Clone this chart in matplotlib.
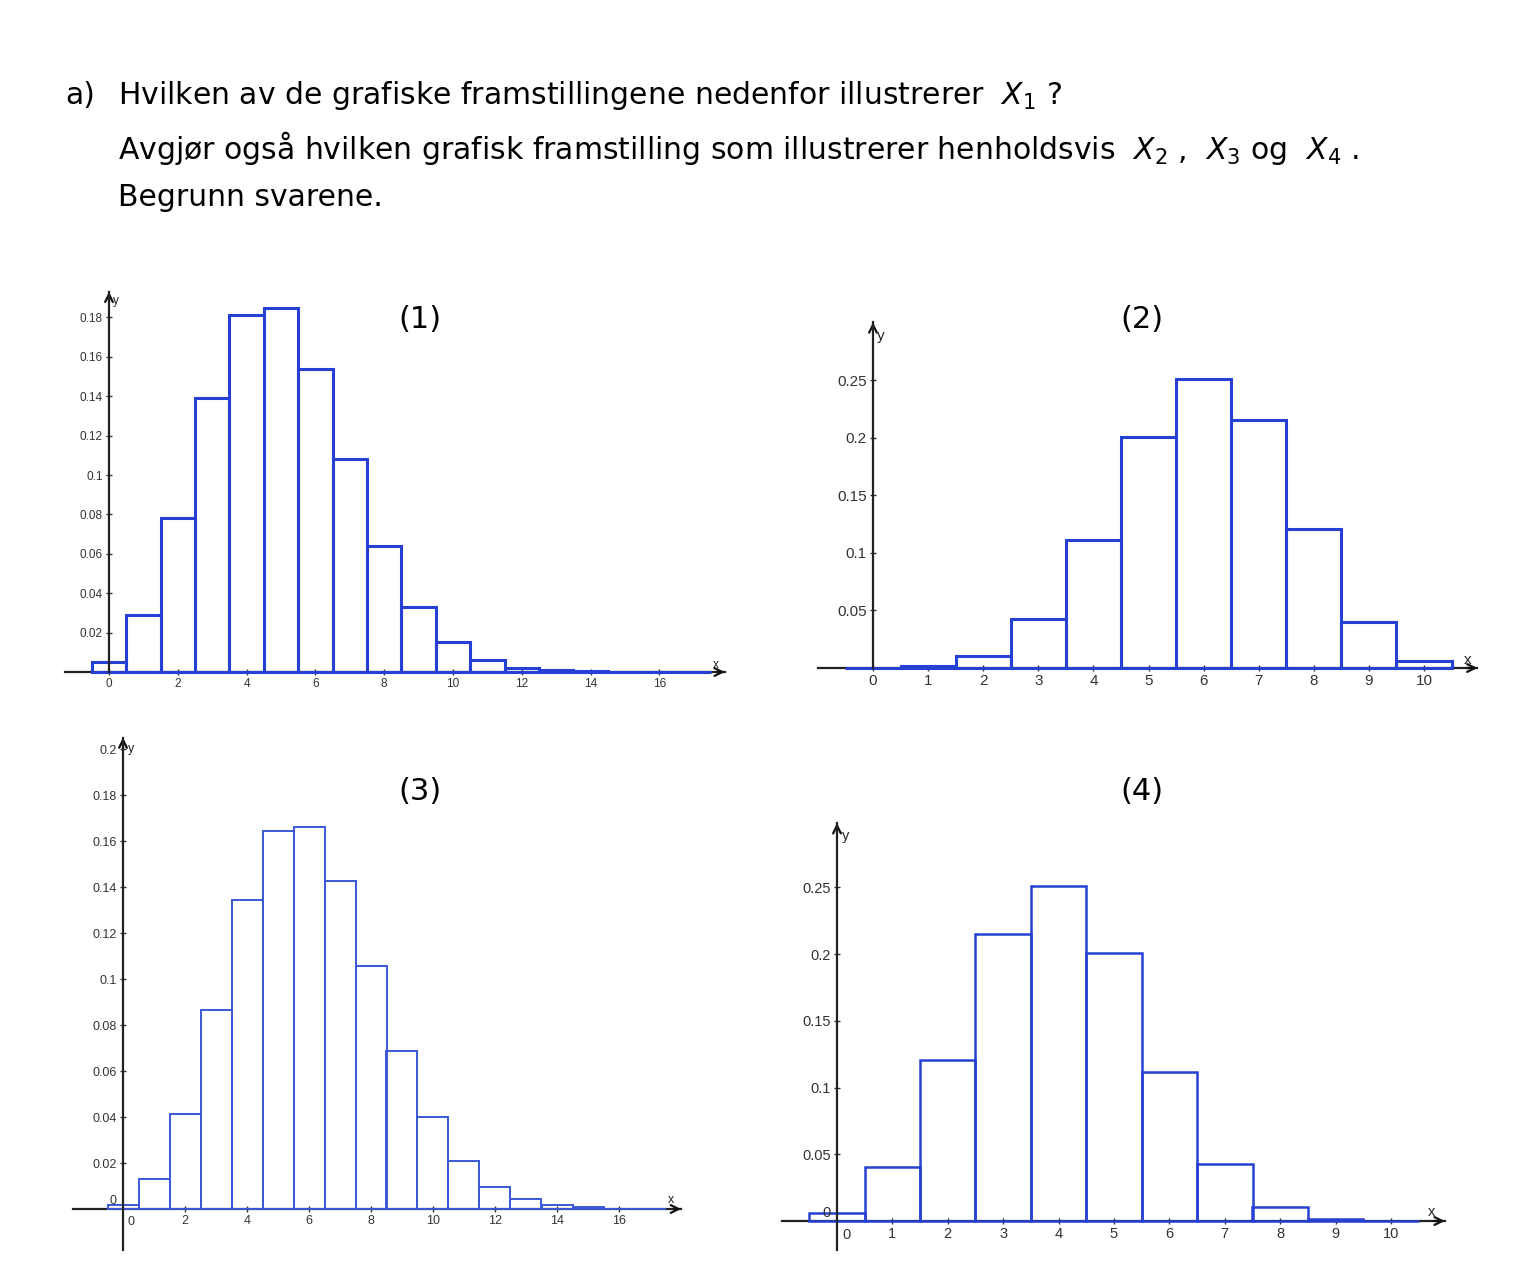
import matplotlib.pyplot as plt

plt.rcParams['font.family'] = ['Liberation Sans', 'DejaVu Sans']
plt.rcParams['mathtext.fontset'] = 'custom'
plt.rcParams['mathtext.rm'] = 'DejaVu Sans'
plt.rcParams['mathtext.it'] = 'DejaVu Sans:italic'

# sannsynligheter lest av figurene
x1 = list(range(18))
p1 = [0.005, 0.029, 0.078, 0.139, 0.181, 0.185, 0.154, 0.108, 0.064, 0.033,
      0.015, 0.006, 0.002, 0.0008, 0.0003, 0.0001, 0.0, 0.0]
x2 = list(range(11))
p2 = [0.0001, 0.0016, 0.0106, 0.0425, 0.1115, 0.2007, 0.2508, 0.2150, 0.1209,
      0.0403, 0.0060]
x3 = list(range(18))
p3 = [0.0018, 0.013, 0.0413, 0.0867, 0.1343, 0.1645, 0.1661, 0.1425, 0.1055,
      0.0688, 0.040, 0.0207, 0.0097, 0.0043, 0.0017, 0.0008, 0.0002, 0.0001]
x4 = list(range(11))
p4 = [0.0060, 0.0403, 0.1209, 0.2150, 0.2508, 0.2007, 0.1115, 0.0425, 0.0106,
      0.0016, 0.0001]

xt1 = [0, 2, 4, 6, 8, 10, 12, 14, 16]
yt1 = [0.02, 0.04, 0.06, 0.08, 0.1, 0.12, 0.14, 0.16, 0.18]
yl1 = ['0.02', '0.04', '0.06', '0.08', '0.1', '0.12', '0.14', '0.16', '0.18']
xt2 = [0, 1, 2, 3, 4, 5, 6, 7, 8, 9, 10]
yt2 = [0.05, 0.1, 0.15, 0.2, 0.25]
yl2 = ['0.05', '0.1', '0.15', '0.2', '0.25']
xt3 = [2, 4, 6, 8, 10, 12, 14, 16]
yt3 = [0.02, 0.04, 0.06, 0.08, 0.1, 0.12, 0.14, 0.16, 0.18, 0.2]
yl3 = ['0.02', '0.04', '0.06', '0.08', '0.1', '0.12', '0.14', '0.16', '0.18', '0.2']
xt4 = [1, 2, 3, 4, 5, 6, 7, 8, 9, 10]
yt4 = yt2
yl4 = yl2

W, H = 1515, 1275
fig = plt.figure(figsize=(W / 100, H / 100), dpi=100)

txtfont = 'DejaVu Sans'
tsize = 21.5


def ftxt(px, py, s, **kw):
    fig.text(px / W, 1 - py / H, s, **kw)


# oppgavetekst
ftxt(65, 104, 'a)', fontsize=tsize, family=txtfont, va='baseline')
ftxt(118, 104, 'Hvilken av de grafiske framstillingene nedenfor illustrerer  $X_1$ ?',
     fontsize=tsize, family=txtfont, va='baseline')
ftxt(118, 159, 'Avgjør også hvilken grafisk framstilling som illustrerer henholdsvis  '
     '$X_2$ ,  $X_3$ og  $X_4$ .', fontsize=tsize, family=txtfont, va='baseline')
ftxt(118, 206, 'Begrunn svarene.', fontsize=tsize, family=txtfont, va='baseline')


def panel(ox, oy, sx, sy, xlo, xhi, ylo, yhi, xs, ps, xt, yt, yl, fs, lw, blue,
          origin0=False, xoff0=0):
    x0, x1_ = xlo - 0.3, xhi + 0.3
    y0, y1_ = ylo - 0.03, yhi + 0.01
    ax = fig.add_axes([(ox + x0 * sx) / W, (H - oy + y0 * sy) / H,
                       (x1_ - x0) * sx / W, (y1_ - y0) * sy / H])
    ax.set_xlim(x0, x1_)
    ax.set_ylim(y0, y1_)
    ax.patch.set_visible(False)
    for s in ['top', 'right']:
        ax.spines[s].set_visible(False)
    ax.spines['left'].set_position(('data', 0))
    ax.spines['bottom'].set_position(('data', 0))
    ax.spines['left'].set_bounds(ylo, yhi)
    ax.spines['bottom'].set_bounds(xlo, xhi)
    ax.spines['left'].set_zorder(4)
    ax.spines['bottom'].set_zorder(2)
    for s in ['left', 'bottom']:
        ax.spines[s].set_color('#222222')
        ax.spines[s].set_linewidth(1.6)
    ax.bar(xs, ps, width=1, fill=False, edgecolor=blue, linewidth=lw, zorder=3,
           clip_on=False)
    ax.set_xticks(xt, labels=[str(v) for v in xt])
    ax.set_yticks(yt, labels=yl)
    ax.tick_params(direction='inout', length=5, width=1, color='#333333',
                   labelsize=fs, labelcolor='#333333', pad=2)
    ax.annotate('', xy=(xhi, 0), xytext=(xhi - 0.2, 0), annotation_clip=False,
                arrowprops=dict(arrowstyle='->', color='#111111', lw=1.6,
                                mutation_scale=14, shrinkA=0, shrinkB=0))
    ax.annotate('', xy=(0, yhi), xytext=(0, yhi - 0.005), annotation_clip=False,
                arrowprops=dict(arrowstyle='->', color='#111111', lw=1.6,
                                mutation_scale=14, shrinkA=0, shrinkB=0))
    if origin0:
        ax.text(-6 / sx, 0.0008, '0', fontsize=fs, color='#333333',
                ha='right', va='bottom')
        ax.text(xoff0 / sx, -7 / sy, '0', fontsize=fs, color='#333333',
                ha='center', va='top')
    return ax


blue = '#2540d2'
panel(109, 672, 34.4, 1970, -1.28, 17.9, 0, 0.193, x1, p1, xt1, yt1, yl1,
      8.5, 2.2, blue)
panel(873, 668, 55.1, 1152, -1.0, 10.97, 0, 0.30, x2, p2, xt2, yt2, yl2,
      11, 2.2, blue)
panel(123, 1209, 31.0, 2300, -1.6, 18.0, -0.018, 0.205, x3, p3, xt3, yt3, yl3,
      9, 1.4, '#3a58d8', origin0=True, xoff0=8)
panel(837, 1221, 55.4, 1335, -1.0, 10.97, -0.022, 0.298, x4, p4, xt4, yt4, yl4,
      10.5, 1.8, blue, origin0=True, xoff0=10)

# aksenavn og nummer
for px, py, s, fs in [(116, 301, 'y', 8.5), (716, 665, 'x', 8.5),
                      (881, 336, 'y', 11), (1468, 660, 'x', 11),
                      (131, 749, 'y', 9), (671, 1200, 'x', 9),
                      (846, 836, 'y', 10.5), (1432, 1212, 'x', 10.5)]:
    ftxt(px, py, s, fontsize=fs, color='#222222', ha='center', va='center')

for px, py, s in [(420, 319, '(1)'), (1142, 319, '(2)'),
                  (420, 791, '(3)'), (1142, 791, '(4)')]:
    ftxt(px, py, s, fontsize=22, family=txtfont, ha='center', va='center')

fig.savefig('out.png', dpi=100)
